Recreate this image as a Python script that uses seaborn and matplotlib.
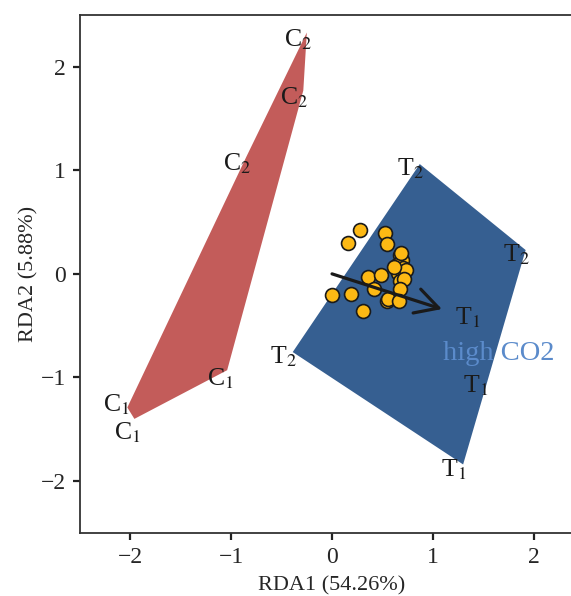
import numpy as np
import pandas as pd
import seaborn as sns
import matplotlib.pyplot as plt

# sample scores (RDA1, RDA2)
c_x = [-0.25, -0.285, -0.85, -1.04, -2.03, -1.96]
c_y = [2.33, 1.77, 1.13, -0.93, -1.29, -1.40]
c_lab = ['C$_2$', 'C$_2$', 'C$_2$', 'C$_1$', 'C$_1$', 'C$_1$']

t_x = [0.87, 1.92, -0.39, 1.30, 1.43, 1.51]
t_y = [1.06, 0.23, -0.755, -1.84, -0.38, -1.03]
t_lab = ['T$_2$', 'T$_2$', 'T$_2$', 'T$_1$', 'T$_1$', 'T$_1$']

# species scores
sp_x = [0.278, 0.156, 0.526, 0.543, 0.675, 0.692, 0.642, 0.708, 0.652, 0.735, 0.361, 0.483,
        0.675, 0.718, 0.420, 0.675, 0.003, 0.186, 0.543, 0.559, 0.665, 0.311, 0.616, 0.685]
sp_y = [0.424, 0.302, 0.398, 0.289, 0.183, 0.135, 0.087, 0.055, 0.013, 0.039, -0.026, -0.010,
        -0.068, -0.051, -0.145, -0.148, -0.203, -0.196, -0.260, -0.244, -0.260, -0.357, 0.070, 0.205]

# environmental vector
env_name = 'high CO2'
env_x = 1.09
env_y = -0.34


def hull(xs, ys):
    pts = sorted(zip(xs, ys))
    def cross(o, a, b):
        return (a[0]-o[0])*(b[1]-o[1]) - (a[1]-o[1])*(b[0]-o[0])
    lower, upper = [], []
    for p in pts:
        while len(lower) >= 2 and cross(lower[-2], lower[-1], p) <= 0:
            lower.pop()
        lower.append(p)
    for p in reversed(pts):
        while len(upper) >= 2 and cross(upper[-2], upper[-1], p) <= 0:
            upper.pop()
        upper.append(p)
    h = lower[:-1] + upper[:-1]
    return [p[0] for p in h], [p[1] for p in h]


sns.set_style('ticks')
plt.rcParams['font.family'] = ['Liberation Serif', 'DejaVu Serif']
plt.rcParams['mathtext.fontset'] = 'stix'

fig = plt.figure(figsize=(5.71, 5.96), dpi=100)
ax = fig.add_axes([0.140, 0.106, 0.883, 0.869])

hx, hy = hull(c_x, c_y)
ax.fill(hx, hy, color='#C35C5A', lw=0, zorder=1)
hx, hy = hull(t_x, t_y)
ax.fill(hx, hy, color='#365F91', lw=0, zorder=1)

sp = pd.DataFrame({'RDA1': sp_x, 'RDA2': sp_y})
sns.scatterplot(data=sp, x='RDA1', y='RDA2', ax=ax, s=100, color='#FDB914',
                edgecolor='#1a1a1a', linewidth=1.2, zorder=3)

ax.annotate('', xy=(env_x, env_y), xytext=(0, 0),
            arrowprops=dict(arrowstyle='->,head_length=1.65,head_width=0.9',
                            color='#1a1a1a', lw=2.3, shrinkA=0, shrinkB=0), zorder=4)
ax.text(env_x + 0.01, -0.77, env_name, color='#5B8BCB', fontsize=20.5,
        ha='left', va='center', zorder=5)

# label nudges (points)
c_off = [(-6.5, -5), (-6.5, -5), (-6.5, -5), (-5, -6), (-8, 2), (-5, -10)]
t_off = [(-6.5, -3.5)] * 6
for xs, ys, labs, offs in [(c_x, c_y, c_lab, c_off), (t_x, t_y, t_lab, t_off)]:
    for x, y, l, o in zip(xs, ys, labs, offs):
        ax.annotate(l, (x, y), xytext=o, textcoords='offset points',
                    ha='center', va='center', fontsize=18.5, color='#1a1a1a', zorder=5)

ax.set_xlim(-2.5, 2.5)
ax.set_ylim(-2.5, 2.5)
ax.set_xticks([-2, -1, 0, 1, 2])
ax.set_yticks([-2, -1, 0, 1, 2])
ax.set_xticklabels(['\u22122', '\u22121', '0', '1', '2'])
ax.set_yticklabels(['\u22122', '\u22121', '0', '1', '2'])
ax.set_xlabel('RDA1 (54.26%)', fontsize=16, labelpad=6)
ax.set_ylabel('RDA2 (5.88%)', fontsize=16, labelpad=2)
ax.tick_params(labelsize=17, length=5, width=1.6, color='#222222', pad=5)
for s in ax.spines.values():
    s.set_visible(True)
    s.set_color('#333333')
    s.set_linewidth(1.3)

fig.savefig('out.png', dpi=100)
